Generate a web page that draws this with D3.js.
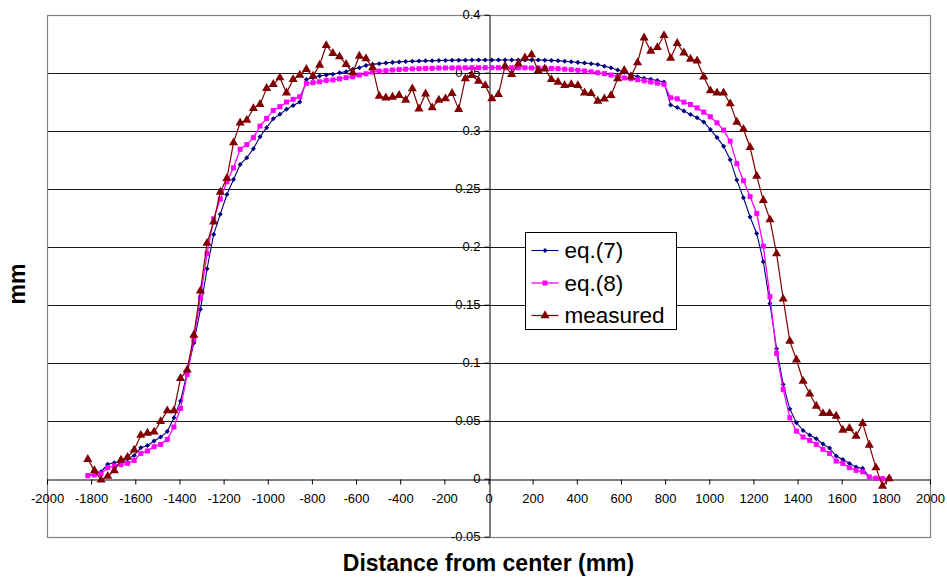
<!DOCTYPE html>
<html>
<head>
<meta charset="utf-8">
<script src="https://cdn.jsdelivr.net/npm/d3@7/dist/d3.min.js"></script>
<style>
body{margin:0;background:#fff}
</style>
</head>
<body>
<svg id="chart" width="947" height="577"></svg>
<script>
// ---- data ----
var xValues = [
 -1815,-1785,-1755,-1725,-1695,-1665,-1635,-1605,-1575,-1545,
 -1515,-1485,-1455,-1425,-1395,-1365,-1335,-1305,-1275,-1245,
 -1215,-1185,-1155,-1125,-1095,-1065,-1035,-1005,-975,-945,
 -915,-885,-855,-825,-795,-765,-735,-705,-675,-645,
 -615,-585,-555,-525,-495,-465,-435,-405,-375,-345,
 -315,-285,-255,-225,-195,-165,-135,-105,-75,-45,
 -15,15,45,75,105,135,165,195,225,255,
 285,315,345,375,405,435,465,495,525,555,
 585,615,645,675,705,735,765,795,825,855,
 885,915,945,975,1005,1035,1065,1095,1125,1155,
 1185,1215,1245,1275,1305,1335,1365,1395,1425,1455,
 1485,1515,1545,1575,1605,1635,1665,1695,1725,1755,
 1785,1815]

var eq7 = [
 0.003,0.004,0.006,0.0124,0.0138,0.0149,0.017,0.0201,0.0267,0.0287,
 0.0325,0.0359,0.0408,0.0526,0.067,0.0914,0.117,0.146,0.181,0.2106,
 0.228,0.245,0.258,0.2709,0.2767,0.2845,0.2948,0.3026,0.3103,0.3141,
 0.3184,0.3218,0.3247,0.3442,0.3457,0.3471,0.348,0.3486,0.35,0.3509,
 0.3529,0.3543,0.3563,0.3572,0.3578,0.3584,0.3589,0.3593,0.3596,0.3598,
 0.36,0.3602,0.3604,0.3605,0.3606,0.3607,0.3608,0.3608,0.3609,0.3609,
 0.361,0.361,0.361,0.361,0.361,0.361,0.361,0.361,0.3609,0.3608,
 0.3606,0.3603,0.3598,0.3594,0.3589,0.3584,0.3578,0.357,0.3556,0.3542,
 0.3524,0.3505,0.3484,0.3465,0.3452,0.3443,0.3432,0.342,0.3222,0.32,
 0.3169,0.314,0.3111,0.3075,0.301,0.2942,0.2865,0.275,0.2574,0.2422,
 0.2256,0.2114,0.187,0.151,0.112,0.0813,0.06,0.0482,0.0416,0.0376,
 0.0345,0.0299,0.0264,0.0195,0.0166,0.0132,0.01,0.0089,0.0015,0.0005,
 0,0]

var eq8 = [
 0.0026,0.0032,0.0043,0.0095,0.011,0.0121,0.0132,0.0158,0.0218,0.0239,
 0.0276,0.0296,0.0339,0.0445,0.0606,0.0899,0.12,0.156,0.194,0.224,
 0.241,0.256,0.268,0.284,0.288,0.294,0.304,0.3106,0.3175,0.3207,
 0.3247,0.327,0.3293,0.3408,0.3414,0.3422,0.3434,0.3437,0.3448,0.3457,
 0.3465,0.348,0.3491,0.3506,0.3514,0.3518,0.3523,0.3527,0.353,0.3533,
 0.3535,0.3537,0.3538,0.354,0.3541,0.3541,0.3542,0.3542,0.3543,0.3543,
 0.3543,0.3543,0.3543,0.3543,0.3543,0.3542,0.3542,0.3541,0.3541,0.354,
 0.3537,0.3535,0.353,0.3526,0.3521,0.3515,0.3508,0.35,0.3492,0.348,
 0.3466,0.3455,0.3448,0.344,0.343,0.342,0.341,0.34,0.3284,0.3275,
 0.3246,0.3226,0.3197,0.316,0.312,0.3068,0.3005,0.291,0.2716,0.2569,
 0.2432,0.2287,0.2005,0.157,0.108,0.077,0.0525,0.041,0.0359,0.033,
 0.0296,0.0253,0.0218,0.0152,0.0132,0.0095,0.0072,0.006,0.0015,0.0004,
 0,0]

var measured = [
 0.0167,0.007,-0.0011,0.0022,0.007,0.0161,0.0185,0.0248,0.0375,0.0394,
 0.0403,0.0494,0.0586,0.0586,0.0865,0.0938,0.1238,0.162,0.203,0.2213,
 0.2471,0.259,0.2897,0.3068,0.3091,0.3192,0.3227,0.3365,0.34,0.3457,
 0.3327,0.3442,0.348,0.3529,0.3471,0.3566,0.3735,0.3667,0.3638,0.3572,
 0.35,0.3644,0.3621,0.3543,0.3299,0.3284,0.329,0.3305,0.3264,0.3362,
 0.3189,0.3318,0.3198,0.3264,0.3276,0.3322,0.3184,0.3448,0.3476,0.3428,
 0.339,0.3276,0.3313,0.3557,0.3486,0.3576,0.3629,0.3655,0.3518,0.3534,
 0.3442,0.3419,0.339,0.3399,0.339,0.3327,0.3321,0.3255,0.3275,0.3304,
 0.3448,0.352,0.3465,0.3586,0.3801,0.3686,0.3718,0.3821,0.3625,0.3753,
 0.3672,0.3618,0.3603,0.3465,0.3345,0.3327,0.3327,0.3233,0.3074,0.3013,
 0.2857,0.2609,0.24,0.2233,0.194,0.155,0.1186,0.1025,0.0842,0.0732,
 0.0626,0.0563,0.0563,0.054,0.0419,0.0434,0.0368,0.0477,0.029,0.0095,
 -0.0063,0]

var seriesNames = ["eq.(7)", "eq.(8)", "measured"]
var xTicks = [-2000,-1800,-1600,-1400,-1200,-1000,-800,-600,-400,-200,0,200,400,600,800,1000,1200,1400,1600,1800,2000]
var yTicks = [-0.05,0,0.05,0.1,0.15,0.2,0.25,0.3,0.35,0.4]
var yTickLabels = ["-0.05","0","0.05","0.1","0.15","0.2","0.25","0.3","0.35","0.4"]

var svg = d3.select("#chart")
var font = "Liberation Sans, Arial, sans-serif"

var plotLeft = 47, plotRight = 930, plotTop = 14.7, plotBottom = 536.7

var xScale = d3.scaleLinear().domain([-2000, 2000]).range([plotLeft, plotRight])
var yScale = d3.scaleLinear().domain([-0.05, 0.4]).range([plotBottom, plotTop])

//---horizontal gridlines---
svg.append("g")
  .selectAll("line")
  .data(yTicks.filter(function(d){return d > 0}))
  .enter().append("line")
  .attr("x1", plotLeft).attr("x2", plotRight)
  .attr("y1", function(d){return Math.round(yScale(d)) + 0.5})
  .attr("y2", function(d){return Math.round(yScale(d)) + 0.5})
  .attr("stroke", "#1a1a1a")
  .attr("stroke-width", 1)

//---plot area border---
svg.append("rect")
  .attr("x", plotLeft + 0.5).attr("y", Math.round(plotTop) + 0.5)
  .attr("width", plotRight - plotLeft).attr("height", Math.round(plotBottom) - Math.round(plotTop))
  .attr("fill", "none")
  .attr("stroke", "#808080")
  .attr("stroke-width", 1.2)

var y0 = Math.round(yScale(0)) + 0.5
var x0 = Math.round(xScale(0)) + 0.5

// x axis through y=0
var xAxis = svg.append("g")
  .attr("transform", "translate(0," + y0 + ")")
  .call(d3.axisBottom(xScale).tickValues(xTicks).tickSize(5).tickSizeOuter(0).tickPadding(9)
    .tickFormat(function(d){return String(d)}))
xAxis.select(".domain").attr("stroke", "#000")
xAxis.selectAll("line").attr("stroke", "#000")
xAxis.selectAll("text")
  .attr("font-family", font)
  .attr("font-size", "13px")
  .attr("fill", "#000")

// y axis through x=0
var yAxis = svg.append("g")
  .attr("transform", "translate(" + x0 + ",0)")
  .call(d3.axisLeft(yScale).tickValues(yTicks).tickSize(5).tickSizeOuter(0).tickPadding(4)
    .tickFormat(function(d, i){return yTickLabels[i]}))
yAxis.select(".domain").attr("stroke", "#000")
yAxis.selectAll("line").attr("stroke", "#000")
yAxis.selectAll("text")
  .attr("font-family", font)
  .attr("font-size", "13px")
  .attr("fill", "#000")

//---series---
var series = [
  {name: seriesNames[0], values: eq7, color: "#000080", symbol: d3.symbolDiamond2, size: 16, width: 1.1},
  {name: seriesNames[1], values: eq8, color: "#FF00FF", symbol: d3.symbolSquare, size: 25, width: 1.3},
  {name: seriesNames[2], values: measured, color: "#800000", symbol: d3.symbolTriangle, size: 36, width: 1.2}
]

var line = d3.line()
  .x(function(d){return xScale(d[0])})
  .y(function(d){return yScale(d[1])})

series.forEach(function(s){
  var pts = xValues.map(function(x, i){return [x, s.values[i]]})
  svg.append("path")
    .datum(pts)
    .attr("fill", "none")
    .attr("stroke", s.color)
    .attr("stroke-width", s.width)
    .attr("d", line)
  svg.append("g")
    .selectAll("path")
    .data(pts)
    .enter().append("path")
    .attr("transform", function(d){return "translate(" + xScale(d[0]) + "," + yScale(d[1]) + ")"})
    .attr("d", d3.symbol().type(s.symbol).size(s.size))
    .attr("fill", s.color)
})

//---legend---
var lg = svg.append("g").attr("transform", "translate(525.5,232.5)")
lg.append("rect")
  .attr("width", 151).attr("height", 97)
  .attr("fill", "#fff")
  .attr("stroke", "#000")
  .attr("stroke-width", 1)

series.forEach(function(s, i){
  var cy = 18 + i * 32.5
  lg.append("line")
    .attr("x1", 6).attr("x2", 33)
    .attr("y1", cy).attr("y2", cy)
    .attr("stroke", s.color)
    .attr("stroke-width", s.width)
  lg.append("path")
    .attr("transform", "translate(19.5," + cy + ")")
    .attr("d", d3.symbol().type(s.symbol).size(s.size))
    .attr("fill", s.color)
  lg.append("text")
    .attr("x", 39).attr("y", cy)
    .attr("dy", "0.35em")
    .attr("font-family", font)
    .attr("font-size", "22.5px")
    .attr("fill", "#000")
    .text(s.name)
})

//---axis titles---
svg.append("text")
  .attr("transform", "translate(25,284)rotate(-90)")
  .attr("text-anchor", "middle")
  .attr("font-family", font)
  .attr("font-size", "23px")
  .attr("font-weight", "bold")
  .text("mm")

svg.append("text")
  .attr("x", 488.5).attr("y", 571)
  .attr("text-anchor", "middle")
  .attr("font-family", font)
  .attr("font-size", "23px")
  .attr("font-weight", "bold")
  .text("Distance from center (mm)")
</script>
</body>
</html>
